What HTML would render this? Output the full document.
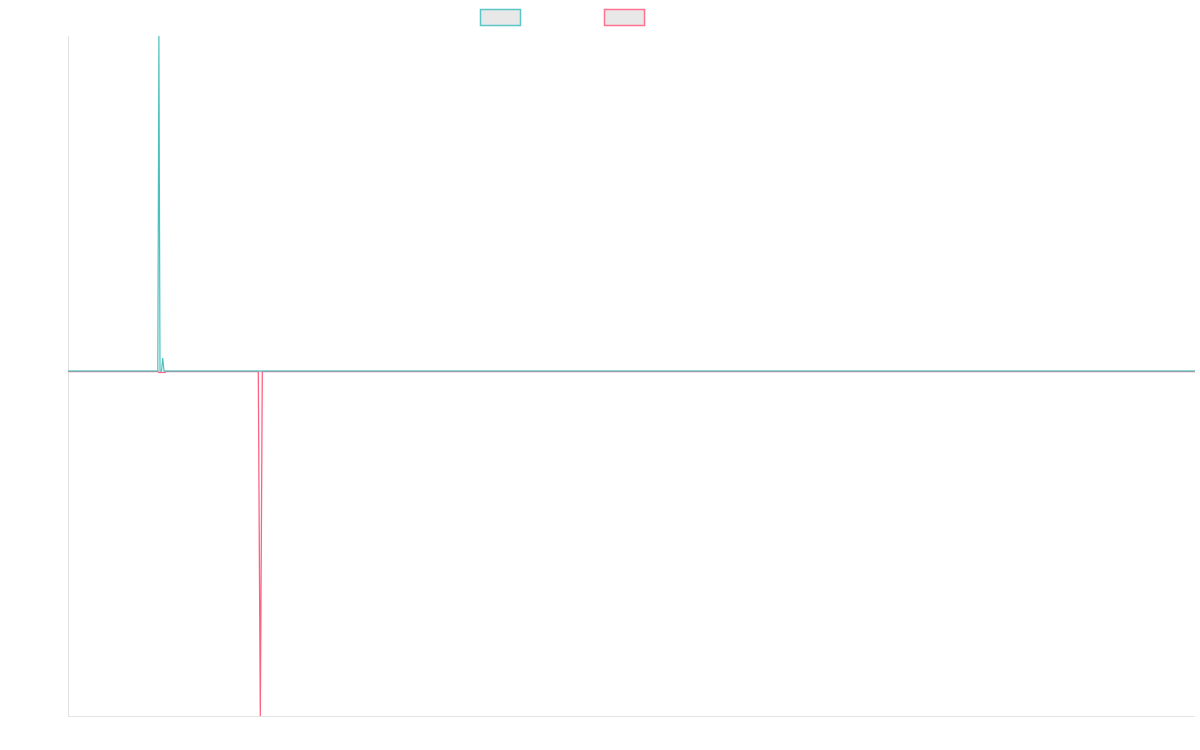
<!DOCTYPE html>
<html>
<head>
<meta charset="utf-8">
<style>
  html,body{margin:0;padding:0;background:#fff;}
  body{width:1200px;height:750px;overflow:hidden;font-family:"Liberation Sans",sans-serif;}
  svg{display:block;}
</style>
</head>
<body>
<svg width="1200" height="750" viewBox="0 0 1200 750" xmlns="http://www.w3.org/2000/svg">
  <!-- legend -->
  <rect x="480.5" y="9.5" width="40" height="16" fill="#e6e6e6" stroke="#4bc0c0" stroke-width="1.5" opacity="0.9"/>
  <rect x="604.5" y="9.5" width="40" height="16" fill="#e6e6e6" stroke="#ff6384" stroke-width="1.5" opacity="0.9"/>
  <!-- axes -->
  <line x1="68.5" y1="36" x2="68.5" y2="716.5" stroke="#e2e2e2" stroke-width="1"/>
  <line x1="68" y1="716.5" x2="1195" y2="716.5" stroke="#e2e2e2" stroke-width="1"/>
  <line x1="68" y1="372" x2="1195" y2="372" stroke="#e4e4e4" stroke-width="1"/>
  <!-- pink series -->
  <polyline fill="none" stroke="#ff6384" stroke-width="1.3" stroke-linejoin="miter"
    points="68,371.5 158,371.5 159,372.5 165,372.5 166,371.5 258.3,371.5 260.3,716 262.3,371.5 1195,371.5"/>
  <!-- teal series -->
  <polyline fill="none" stroke="#4bc0c0" stroke-width="1.2" stroke-linejoin="miter"
    points="68,371 157.8,371 158.9,36 160,371 161.5,371 162.7,358 164,371 258,371 262.5,371 1195,371"/>
</svg>
</body>
</html>
